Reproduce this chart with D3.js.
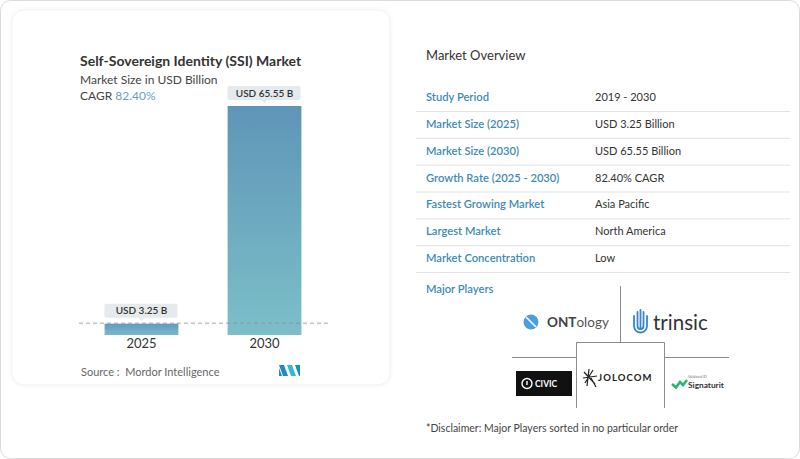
<!DOCTYPE html>
<html>
<head>
<meta charset="utf-8">
<script src="https://cdn.jsdelivr.net/npm/d3@7"></script>
<style>
  body { margin: 0; background: #fff; }
  svg { display: block; font-family: Lato, "Open Sans", sans-serif; }
</style>
</head>
<body>
<svg id="chart" width="800" height="459"></svg>
<script>
// Data
const years = ["2025", "2030"];
const marketSize = [3.25, 65.55];
const valueLabels = ["USD 3.25 B", "USD 65.55 B"];

const overviewLabels = ["Study Period", "Market Size (2025)", "Market Size (2030)", "Growth Rate (2025 - 2030)",
    "Fastest Growing Market", "Largest Market", "Market Concentration"];
const overviewValues = ["2019 - 2030", "USD 3.25 Billion", "USD 65.55 Billion", "82.40% CAGR",
    "Asia Pacific", "North America", "Low"];

const svg = d3.select("#chart");
const defs = svg.append("defs");

// outer frame + left card
svg.append("rect")
    .attr("x", 0.5).attr("y", 0.5).attr("width", 799).attr("height", 458)
    .attr("rx", 10).attr("fill", "#fff").attr("stroke", "#dcdcdc");

const shadow = defs.append("filter").attr("id", "shadow")
    .attr("x", "-5%").attr("y", "-5%").attr("width", "110%").attr("height", "110%");
shadow.append("feDropShadow").attr("dx", 0).attr("dy", 0).attr("stdDeviation", 2)
    .attr("flood-color", "#000").attr("flood-opacity", 0.06);

svg.append("rect")
    .attr("x", 12).attr("y", 10).attr("width", 378).attr("height", 375)
    .attr("rx", 12).attr("fill", "#fff").attr("stroke", "#f1f1f1")
    .attr("filter", "url(#shadow)");

// Titles
svg.append("text").attr("x", 80).attr("y", 66)
    .attr("font-size", 14).attr("font-weight", 700).attr("fill", "#333")
    .text("Self-Sovereign Identity (SSI) Market");
svg.append("text").attr("x", 80).attr("y", 84)
    .attr("font-size", 12).attr("fill", "#444")
    .text("Market Size in USD Billion");
const cagr = svg.append("text").attr("x", 80).attr("y", 100).attr("font-size", 12).attr("fill", "#444");
cagr.append("tspan").text("CAGR ");
cagr.append("tspan").attr("fill", "#6a9ec0").text("82.40%");

// Scales
const x = d3.scaleBand()
    .domain(years)
    .range([79, 327])
    .paddingInner(0.4)
    .paddingOuter(0.208);

const y = d3.scaleLinear()
    .domain([0, d3.max(marketSize)])
    .range([335, 106]);

// bar gradients
const grad = defs.append("linearGradient").attr("id", "barGrad")
    .attr("x1", 0).attr("y1", 0).attr("x2", 0).attr("y2", 1);
grad.append("stop").attr("offset", "0%").attr("stop-color", "#5f95b8");
grad.append("stop").attr("offset", "100%").attr("stop-color", "#7cbfc8");

const grad2 = defs.append("linearGradient").attr("id", "barGradSmall")
    .attr("x1", 0).attr("y1", 0).attr("x2", 0).attr("y2", 1);
grad2.append("stop").attr("offset", "0%").attr("stop-color", "#5f9cc0");
grad2.append("stop").attr("offset", "100%").attr("stop-color", "#7bb8cc");

// Bars
svg.selectAll(".bar")
    .data(marketSize)
    .enter()
    .append("rect")
    .attr("class", "bar")
    .attr("x", (d, i) => x(years[i]))
    .attr("y", d => y(d))
    .attr("width", x.bandwidth())
    .attr("height", d => y(0) - y(d))
    .attr("fill", (d, i) => i === 0 ? "url(#barGradSmall)" : "url(#barGrad)");

// dashed break line at first bar's top
svg.append("line")
    .attr("x1", 79).attr("x2", 328)
    .attr("y1", y(marketSize[0]) - 0.5).attr("y2", y(marketSize[0]) - 0.5)
    .attr("stroke", "#8a8f94").attr("stroke-width", 0.8)
    .attr("stroke-dasharray", "4,3");

// Value labels
const lbl = svg.selectAll(".vlabel")
    .data(marketSize)
    .enter()
    .append("g")
    .attr("class", "vlabel")
    .attr("transform", (d, i) => `translate(${x(years[i]) + x.bandwidth() / 2},${y(d) - 6})`);

lbl.append("rect")
    .attr("x", -37).attr("y", -14).attr("width", 73).attr("height", 14)
    .attr("rx", 2).attr("fill", "#e4eaed");
lbl.append("path")
    .attr("d", "M-3,0 L0,3 L3,0 Z").attr("fill", "#e4eaed");
lbl.append("text")
    .attr("text-anchor", "middle").attr("y", -3.5)
    .attr("font-size", 10).attr("font-weight", 600).attr("fill", "#333")
    .text((d, i) => valueLabels[i]);

// X axis
const xAxis = svg.append("g")
    .attr("transform", "translate(0,337)")
    .call(d3.axisBottom(x).tickSize(0).tickPadding(2));
xAxis.select(".domain").remove();
xAxis.selectAll("text")
    .attr("font-size", 13).attr("fill", "#333")
    .style("font-family", "Lato, 'Open Sans', sans-serif");

// Source
svg.append("text").attr("x", 81).attr("y", 376)
    .attr("font-size", 11).attr("fill", "#666")
    .style("white-space", "pre")
    .text("Source :  Mordor Intelligence");

// Mordor logo
const ml = svg.append("g").attr("transform", "translate(279,365)");
ml.append("path").attr("d", "M0,0 L5,0 L9,11 L4,11 Z").attr("fill", "#1f8ac3");
ml.append("path").attr("d", "M0,3 L3,11 L0,11 Z").attr("fill", "#1f8ac3");
ml.append("path").attr("d", "M8,0 L13,0 L17,11 L12,11 Z").attr("fill", "#37b6d6");
ml.append("path").attr("d", "M16,0 L21,0 L21,11 L20,11 Z").attr("fill", "#1f8ac3");

// Right panel
svg.append("text").attr("x", 426).attr("y", 60)
    .attr("font-size", 13).attr("fill", "#333")
    .text("Market Overview");

const rowY = d3.scalePoint()
    .domain(overviewLabels)
    .range([101, 262]);

const rows = svg.selectAll(".row")
    .data(overviewLabels)
    .enter()
    .append("g")
    .attr("class", "row")
    .attr("transform", d => `translate(0,${rowY(d)})`);

rows.append("text")
    .attr("x", 426)
    .attr("font-size", 11.2).attr("font-weight", 600).attr("fill", "#3d8ab5")
    .text(d => d);
rows.append("text")
    .attr("x", 595)
    .attr("font-size", 11).attr("fill", "#333")
    .text((d, i) => overviewValues[i]);
rows.append("line")
    .attr("x1", 416).attr("x2", 790)
    .attr("y1", 10.5).attr("y2", 10.5)
    .attr("stroke", "#e3e3e3").attr("stroke-width", 1);

svg.append("text").attr("x", 426).attr("y", 293)
    .attr("font-size", 11.2).attr("font-weight", 600).attr("fill", "#3d8ab5")
    .text("Major Players");

// logo grid lines
const grid = svg.append("g").attr("stroke", "#8c8c8c").attr("stroke-width", 1).attr("fill", "none");
grid.append("path").attr("d", "M620.5,286 V342.5");
grid.append("path").attr("d", "M512,357.5 H576.5 M664.5,357.5 H729");
grid.append("path").attr("d", "M576.5,408 V342.5 H664.5 V408");

// ONTology
const ont = svg.append("g");
ont.append("circle").attr("cx", 531).attr("cy", 322).attr("r", 7.5).attr("fill", "#4aa0dc");
ont.append("line").attr("x1", 526).attr("y1", 317).attr("x2", 536).attr("y2", 327)
    .attr("stroke", "#fff").attr("stroke-width", 1.6);
const ontT = ont.append("text").attr("x", 547).attr("y", 327).attr("font-size", 13.5).attr("fill", "#555");
ontT.append("tspan").attr("font-weight", 700).attr("fill", "#444").text("ONT");
ontT.append("tspan").text("ology");

// trinsic
const tr = svg.append("g").attr("stroke", "#3a86c8").attr("fill", "none")
    .attr("stroke-width", 1.8).attr("stroke-linecap", "round");
tr.append("path").attr("d", "M634,316 V326 A6.5,6.5 0 0 0 647,326 V316");
tr.append("path").attr("d", "M637.5,312 V326 A3,3 0 0 0 643.5,326 V312");
tr.append("path").attr("d", "M640.5,310 V329");
svg.append("text").attr("x", 653).attr("y", 330)
    .attr("font-size", 20.5).attr("fill", "#333")
    .text("trinsic");

// civic
svg.append("rect").attr("x", 516).attr("y", 371).attr("width", 56).attr("height", 25).attr("fill", "#111");
svg.append("circle").attr("cx", 527).attr("cy", 383.5).attr("r", 5)
    .attr("fill", "none").attr("stroke", "#fff").attr("stroke-width", 1.4);
svg.append("line").attr("x1", 527).attr("y1", 381).attr("x2", 527).attr("y2", 385)
    .attr("stroke", "#fff").attr("stroke-width", 1.4);
svg.append("text").attr("x", 535).attr("y", 387)
    .attr("font-size", 8.5).attr("font-weight", 700).attr("fill", "#fff")
    .text("CIVIC");

// jolocom
const jl = svg.append("g").attr("stroke", "#222").attr("stroke-width", 1.2).attr("fill", "none");
jl.append("path").attr("d", "M584,372 L595,384 M589,369 L587,386 M583,378 L597,376 M593,370 L585,383 M591,378 L596,387");
svg.append("text").attr("x", 598).attr("y", 381)
    .attr("font-size", 9.5).attr("font-weight", 700).attr("fill", "#222")
    .attr("letter-spacing", 1.1)
    .text("JOLOCOM");

// signaturit
svg.append("path").attr("d", "M672,384 L676,387.5 L680,382 L683,385 L687,380")
    .attr("stroke", "#2bb673").attr("stroke-width", 2.6).attr("fill", "none");
svg.append("text").attr("x", 688).attr("y", 378)
    .attr("font-size", 3.5).attr("fill", "#777").text("Validated ID");
svg.append("text").attr("x", 688).attr("y", 388)
    .attr("font-size", 8.3).attr("font-weight", 700).attr("fill", "#333")
    .text("Signaturit");

// Disclaimer
svg.append("text").attr("x", 426).attr("y", 432)
    .attr("font-size", 10.5).attr("fill", "#444")
    .text("*Disclaimer: Major Players sorted in no particular order");
</script>
</body>
</html>
